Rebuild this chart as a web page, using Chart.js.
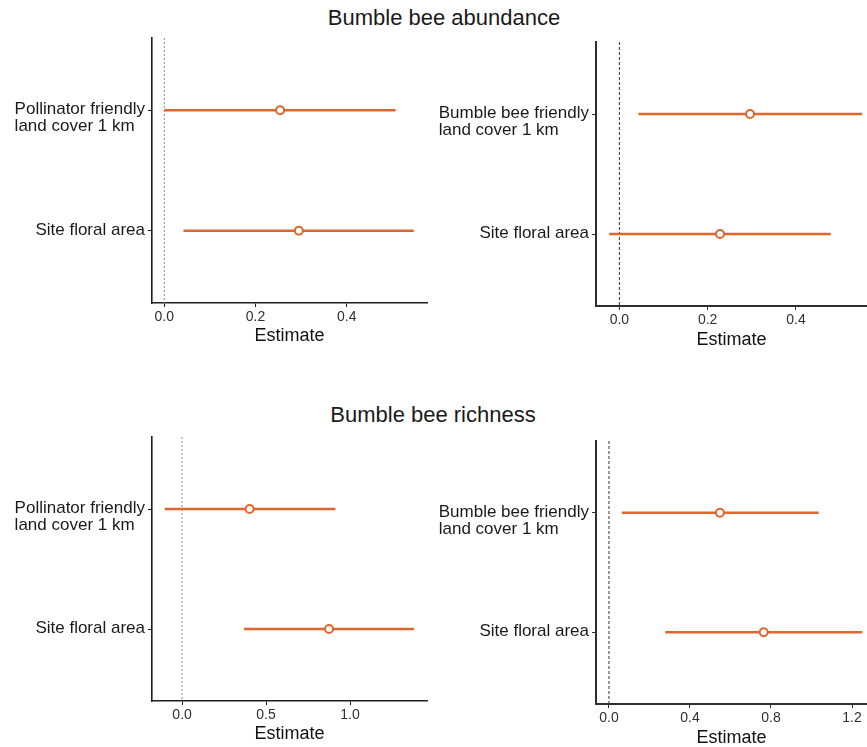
<!DOCTYPE html>
<html>
<head>
<meta charset="utf-8">
<script src="https://cdn.jsdelivr.net/npm/chart.js@4/dist/chart.umd.min.js"></script>
<style>
  html, body { margin: 0; padding: 0; background: #fff; }
  body { width: 867px; height: 747px; position: relative; overflow: hidden;
         font-family: "Liberation Sans", Arial, Helvetica, sans-serif; }
  canvas.panel { position: absolute; left: 0; top: 0; }
  .heading { position: absolute; font-size: 22px; line-height: 1; color: #1a1a1a;
             white-space: nowrap; transform: translate(-50%, -50%); }
</style>
</head>
<body>
<div class="heading" style="left:444px; top:18px;">Bumble bee abundance</div>
<div class="heading" style="left:433px; top:415px;">Bumble bee richness</div>
<canvas id="abundanceLeft" class="panel" width="867" height="800"></canvas>
<canvas id="abundanceRight" class="panel" width="867" height="800"></canvas>
<canvas id="richnessLeft" class="panel" width="867" height="800"></canvas>
<canvas id="richnessRight" class="panel" width="867" height="800"></canvas>
<script>
// Model terms (one row per term, top to bottom)
const pollinatorTerms = [['Pollinator friendly', 'land cover 1 km'], ['Site floral area']];
const bumbleTerms = [['Bumble bee friendly', 'land cover 1 km'], ['Site floral area']];

// Bumble bee abundance: estimates with lower / upper interval bounds
const abundancePollinatorEst = [0.254, 0.295];
const abundancePollinatorLow = [0.000, 0.042];
const abundancePollinatorHigh = [0.507, 0.547];

const abundanceBumbleEst = [0.296, 0.228];
const abundanceBumbleLow = [0.043, -0.023];
const abundanceBumbleHigh = [0.550, 0.479];

// Bumble bee richness
const richnessPollinatorEst = [0.402, 0.875];
const richnessPollinatorLow = [-0.103, 0.369];
const richnessPollinatorHigh = [0.913, 1.381];

const richnessBumbleEst = [0.548, 0.764];
const richnessBumbleLow = [0.064, 0.278];
const richnessBumbleHigh = [1.035, 1.251];

// Tick values on the Estimate axes
const abundancePollinatorTicks = [0, 0.2, 0.4];
const abundanceBumbleTicks = [0, 0.2, 0.4];
const richnessPollinatorTicks = [0, 0.5, 1.0];
const richnessBumbleTicks = [0, 0.4, 0.8, 1.2];

const FONT = '"Liberation Sans", Arial, Helvetica, sans-serif';
const ORANGE = '#e0662d';
const CANVAS_W = 867, CANVAS_H = 800;
const Y_AXIS_W = 6, X_AXIS_H = 46;

// Term labels: block right-aligned against the axis, lines left-aligned inside it
const termLabels = {
  id: 'termLabels',
  afterDraw(chart, args, opts) {
    const ctx = chart.ctx;
    const yScale = chart.scales.y;
    const rightEdge = chart.chartArea.left - 7;
    ctx.save();
    ctx.font = '17px ' + FONT;
    ctx.fillStyle = '#1a1a1a';
    ctx.textBaseline = 'middle';
    ctx.textAlign = 'left';
    opts.terms.forEach((lines, i) => {
      const w = Math.max(...lines.map(l => ctx.measureText(l).width));
      const yc = yScale.getPixelForValue(i + 1);
      lines.forEach((line, k) => ctx.fillText(line, rightEdge - w, yc - 0.5 + k * 16.8));
    });
    ctx.restore();
  }
};

function forestPanel(id, terms, est, low, high, xTicks, xMin, xMax, box, style) {
  const rows = terms.map((t, i) => i + 1);
  const datasets = [
    {
      label: 'Estimate',
      data: est.map((v, i) => ({ x: v, y: rows[i] })),
      showLine: false,
      pointRadius: 4,
      pointBorderWidth: 2,
      pointBackgroundColor: '#ffffff',
      pointBorderColor: ORANGE,
      order: 0
    }
  ];
  rows.forEach((r, i) => {
    datasets.push({
      label: 'Interval',
      data: [{ x: low[i], y: r }, { x: high[i], y: r }],
      showLine: true,
      borderColor: ORANGE,
      borderWidth: 2.5,
      pointRadius: 0,
      order: 1
    });
  });
  datasets.push({
    label: 'Zero',
    data: [{ x: 0, y: 0.4 }, { x: 0, y: rows.length + 0.6 }],
    showLine: true,
    borderColor: style.zeroColor,
    borderWidth: 1,
    borderDash: style.zeroDash,
    pointRadius: 0,
    order: 2
  });

  const titleOffset = box.titleOffset;   // distance from axis line to title centre
  const titleLine = 18 * 1.2;

  new Chart(document.getElementById(id), {
    type: 'scatter',
    data: { datasets },
    options: {
      responsive: false,
      animation: false,
      events: [],
      layout: {
        autoPadding: false,
        padding: {
          left: box.left - Y_AXIS_W,
          top: box.top,
          right: CANVAS_W - box.right,
          bottom: CANVAS_H - box.bottom - X_AXIS_H
        }
      },
      plugins: {
        legend: { display: false },
        tooltip: { enabled: false },
        termLabels: { terms }
      },
      scales: {
        x: {
          type: 'linear',
          min: xMin,
          max: xMax,
          afterBuildTicks: s => { s.ticks = xTicks.map(v => ({ value: v })); },
          afterFit: s => { s.height = X_AXIS_H; s.paddingLeft = 0; s.paddingRight = 0; },
          grid: { display: true, drawOnChartArea: false, drawTicks: true, tickLength: 4,
                  color: style.axisColor, lineWidth: 1 },
          border: { display: true, color: style.axisColor, width: style.axisWidth },
          ticks: {
            padding: 1.5, color: '#2f2f2f', font: { size: 14, family: FONT },
            maxRotation: 0, autoSkip: false,
            callback: v => Number(v).toFixed(1)
          },
          title: {
            display: true, text: 'Estimate', color: '#111',
            font: { size: 18, family: FONT },
            padding: { top: 0, bottom: X_AXIS_H - titleLine / 2 - titleOffset }
          }
        },
        y: {
          type: 'linear',
          reverse: true,
          min: 0.4,
          max: rows.length + 0.6,
          afterBuildTicks: s => { s.ticks = rows.map(v => ({ value: v })); },
          afterFit: s => { s.width = Y_AXIS_W; s.paddingTop = 0; s.paddingBottom = 0; },
          grid: { display: true, drawOnChartArea: false, drawTicks: true, tickLength: 4,
                  color: style.axisColor, lineWidth: 1 },
          border: { display: true, color: style.axisColor, width: style.axisWidth },
          ticks: { display: false }
        }
      }
    },
    plugins: [termLabels]
  });
}

const leftStyle = { axisColor: '#1f1f1f', axisWidth: 1.6, zeroColor: '#8a8a8a', zeroDash: [2, 2] };
const rightStyle = { axisColor: '#2e2e2e', axisWidth: 2, zeroColor: '#333333', zeroDash: [3, 2] };

forestPanel('abundanceLeft', pollinatorTerms,
  abundancePollinatorEst, abundancePollinatorLow, abundancePollinatorHigh,
  abundancePollinatorTicks, -0.027, 0.576,
  { left: 152, top: 38, right: 427, bottom: 303, titleOffset: 33 }, leftStyle);

forestPanel('abundanceRight', bumbleTerms,
  abundanceBumbleEst, abundanceBumbleLow, abundanceBumbleHigh,
  abundanceBumbleTicks, -0.053, 0.561,
  { left: 596, top: 42, right: 867, bottom: 306, titleOffset: 34 }, rightStyle);

forestPanel('richnessLeft', pollinatorTerms,
  richnessPollinatorEst, richnessPollinatorLow, richnessPollinatorHigh,
  richnessPollinatorTicks, -0.179, 1.458,
  { left: 152, top: 437, right: 427, bottom: 701, titleOffset: 33 }, leftStyle);

forestPanel('richnessRight', bumbleTerms,
  richnessBumbleEst, richnessBumbleLow, richnessBumbleHigh,
  richnessBumbleTicks, -0.064, 1.274,
  { left: 596, top: 441, right: 867, bottom: 704, titleOffset: 34 }, rightStyle);
</script>
</body>
</html>
